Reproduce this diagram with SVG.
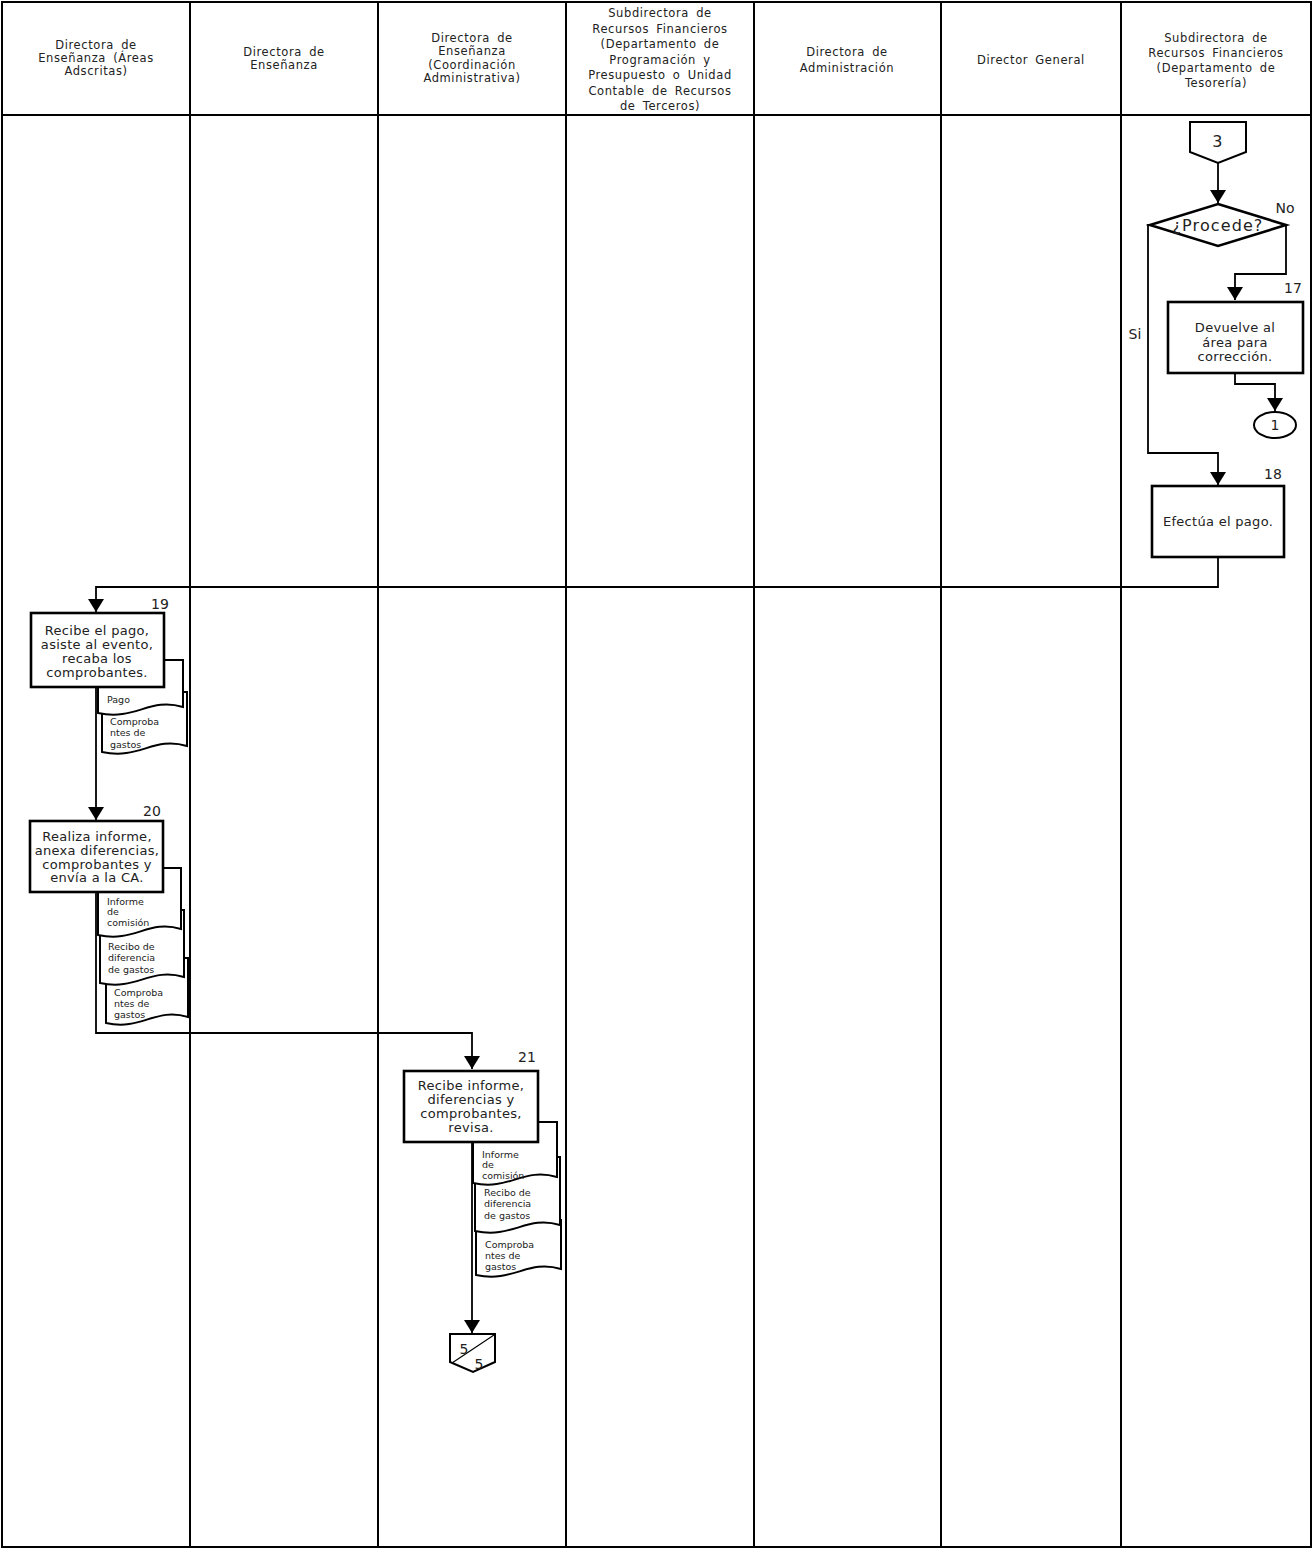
<svg xmlns="http://www.w3.org/2000/svg" width="1312" height="1549" viewBox="0 0 1312 1549">
<style>
.lane{fill:none;stroke:#000;stroke-width:2}
.hd{font-family:"DejaVu Sans",sans-serif;font-size:11.5px;fill:#222;text-anchor:middle;letter-spacing:0.6px;word-spacing:3px}
.box{fill:#fff;stroke:#000;stroke-width:2.6}
.bt{font-family:"DejaVu Sans",sans-serif;font-size:13px;fill:#222;text-anchor:middle;letter-spacing:0.3px}
.num{font-family:"DejaVu Sans",sans-serif;font-size:14px;fill:#222;text-anchor:middle}
.doc{fill:#fff;stroke:#000;stroke-width:2}
.dt{font-family:"DejaVu Sans",sans-serif;font-size:9.5px;fill:#222}
.con{fill:none;stroke:#000;stroke-width:1.8}
.big{font-size:16px;letter-spacing:1.1px}
</style>
<defs>
<marker id="ar" markerUnits="userSpaceOnUse" markerWidth="14" markerHeight="16" refX="13" refY="8" orient="auto">
<path d="M0,0 L13,8 L0,16 Z" fill="#000"/>
</marker>
</defs>
<rect width="1312" height="1549" fill="#fff"/>
<g id="lanes">
<rect class="lane" x="2" y="2" width="1309" height="1545"/>
<line class="lane" x1="2" y1="115" x2="1311" y2="115"/>
<line class="lane" x1="190" y1="2" x2="190" y2="1547"/>
<line class="lane" x1="378" y1="2" x2="378" y2="1547"/>
<line class="lane" x1="566" y1="2" x2="566" y2="1547"/>
<line class="lane" x1="754" y1="2" x2="754" y2="1547"/>
<line class="lane" x1="941" y1="2" x2="941" y2="1547"/>
<line class="lane" x1="1121" y1="2" x2="1121" y2="1547"/>
</g>
<g id="headers">
<text class="hd" x="96" y="49">Directora de</text>
<text class="hd" x="96" y="62">Enseñanza (Áreas</text>
<text class="hd" x="96" y="75">Adscritas)</text>
<text class="hd" x="284" y="56">Directora de</text>
<text class="hd" x="284" y="69">Enseñanza</text>
<text class="hd" x="472" y="42">Directora de</text>
<text class="hd" x="472" y="55">Enseñanza</text>
<text class="hd" x="472" y="69">(Coordinación</text>
<text class="hd" x="472" y="82">Administrativa)</text>
<text class="hd" x="660" y="17">Subdirectora de</text>
<text class="hd" x="660" y="32.5">Recursos Financieros</text>
<text class="hd" x="660" y="48">(Departamento de</text>
<text class="hd" x="660" y="63.5">Programación y</text>
<text class="hd" x="660" y="79">Presupuesto o Unidad</text>
<text class="hd" x="660" y="94.5">Contable de Recursos</text>
<text class="hd" x="660" y="110">de Terceros)</text>
<text class="hd" x="847" y="56">Directora de</text>
<text class="hd" x="847" y="72">Administración</text>
<text class="hd" x="1031" y="64">Director General</text>
<text class="hd" x="1216" y="42">Subdirectora de</text>
<text class="hd" x="1216" y="57">Recursos Financieros</text>
<text class="hd" x="1216" y="72">(Departamento de</text>
<text class="hd" x="1216" y="87">Tesorería)</text>
</g>
<g id="connectors">
<path class="con" d="M1218,163 V203" marker-end="url(#ar)"/>
<path class="con" d="M1286,225 V274 H1235 V300" marker-end="url(#ar)"/>
<path class="con" d="M1235,373 V384 H1275 V411" marker-end="url(#ar)"/>
<path class="con" d="M1150,225 H1148 V453 H1218 V485" marker-end="url(#ar)"/>
<path class="con" d="M1218,557 V587 H96 V612" marker-end="url(#ar)"/>
<path class="con" d="M96,687 V820" marker-end="url(#ar)"/>
<path class="con" d="M96,892 V1033 H472 V1069" marker-end="url(#ar)"/>
<path class="con" d="M472,1142 V1333" marker-end="url(#ar)"/>
<text class="num" x="1285" y="213">No</text>
<text class="num" x="1135" y="339">Si</text>
</g>
<g id="n3">
<polygon points="1190,122 1246,122 1246,152 1218,163 1190,152" fill="#fff" stroke="#000" stroke-width="2"/>
<text class="num big" x="1218" y="147">3</text>
</g>
<g id="decision">
<polygon points="1218,204 1286,225 1218,246 1150,225" fill="#fff" stroke="#000" stroke-width="2.6"/>
<text class="bt big" x="1218" y="231">¿Procede?</text>
</g>
<g id="n17">
<rect class="box" x="1168" y="302" width="135" height="71"/>
<text class="num" x="1293" y="293">17</text>
<text class="bt" x="1235" y="332">Devuelve al</text>
<text class="bt" x="1235" y="347">área para</text>
<text class="bt" x="1235" y="361">corrección.</text>
</g>
<g id="c1">
<ellipse cx="1275" cy="425" rx="21" ry="13" fill="#fff" stroke="#000" stroke-width="2"/>
<text class="num" x="1275" y="430">1</text>
</g>
<g id="n18">
<rect class="box" x="1152" y="486" width="132" height="71"/>
<text class="num" x="1273" y="479">18</text>
<text class="bt" x="1218" y="526">Efectúa el pago.</text>
</g>
<g id="n19">
<path class="doc" d="M102,692 H187 V746 C153,736 140,760 102,752 Z"/>
<path class="doc" d="M98,660 H183 V707 C149,697 136,721 98,713 Z"/>
<text class="dt" x="107" y="703">Pago</text>
<text class="dt" x="110" y="725">Comproba</text>
<text class="dt" x="110" y="736">ntes de</text>
<text class="dt" x="110" y="748">gastos</text>
<rect class="box" x="31" y="613" width="133" height="74"/>
<text class="num" x="160" y="609">19</text>
<text class="bt" x="97" y="635">Recibe el pago,</text>
<text class="bt" x="97" y="649">asiste al evento,</text>
<text class="bt" x="97" y="663">recaba los</text>
<text class="bt" x="97" y="677">comprobantes.</text>
</g>
<g id="n20">
<path class="doc" d="M106,958 H188 V1017 C155,1007 142,1031 106,1023 Z"/>
<path class="doc" d="M100,910 H184 V977 C150,967 137,991 100,983 Z"/>
<path class="doc" d="M98,868 H181 V929 C148,919 135,943 98,935 Z"/>
<text class="dt" x="107" y="905">Informe</text>
<text class="dt" x="107" y="915">de</text>
<text class="dt" x="107" y="926">comisión</text>
<text class="dt" x="108" y="950">Recibo de</text>
<text class="dt" x="108" y="961">diferencia</text>
<text class="dt" x="108" y="973">de gastos</text>
<text class="dt" x="114" y="996">Comproba</text>
<text class="dt" x="114" y="1007">ntes de</text>
<text class="dt" x="114" y="1018">gastos</text>
<rect class="box" x="30" y="821" width="133" height="71"/>
<text class="num" x="152" y="816">20</text>
<text class="bt" x="97" y="841">Realiza informe,</text>
<text class="bt" x="97" y="855">anexa diferencias,</text>
<text class="bt" x="97" y="869">comprobantes y</text>
<text class="bt" x="97" y="882">envía a la CA.</text>
</g>
<g id="n21">
<path class="doc" d="M476,1220 H561 V1269 C527,1259 514,1283 476,1275 Z"/>
<path class="doc" d="M475,1157 H560 V1225 C526,1215 513,1239 475,1231 Z"/>
<path class="doc" d="M473,1122 H557 V1177 C523,1167 510,1191 473,1183 Z"/>
<text class="dt" x="482" y="1158">Informe</text>
<text class="dt" x="482" y="1168">de</text>
<text class="dt" x="482" y="1179">comisión</text>
<text class="dt" x="484" y="1196">Recibo de</text>
<text class="dt" x="484" y="1207">diferencia</text>
<text class="dt" x="484" y="1219">de gastos</text>
<text class="dt" x="485" y="1248">Comproba</text>
<text class="dt" x="485" y="1259">ntes de</text>
<text class="dt" x="485" y="1270">gastos</text>
<rect class="box" x="404" y="1071" width="134" height="71"/>
<text class="num" x="527" y="1062">21</text>
<text class="bt" x="471" y="1090">Recibe informe,</text>
<text class="bt" x="471" y="1104">diferencias y</text>
<text class="bt" x="471" y="1118">comprobantes,</text>
<text class="bt" x="471" y="1132">revisa.</text>
</g>
<g id="c5">
<polygon points="450,1334 495,1334 495,1362 473,1372 450,1362" fill="#fff" stroke="#000" stroke-width="2"/>
<line x1="452" y1="1363" x2="494" y2="1335" stroke="#000" stroke-width="1.2"/>
<text class="num" x="464" y="1354">5</text>
<text class="num" x="479" y="1369">5</text>
</g>
</svg>
